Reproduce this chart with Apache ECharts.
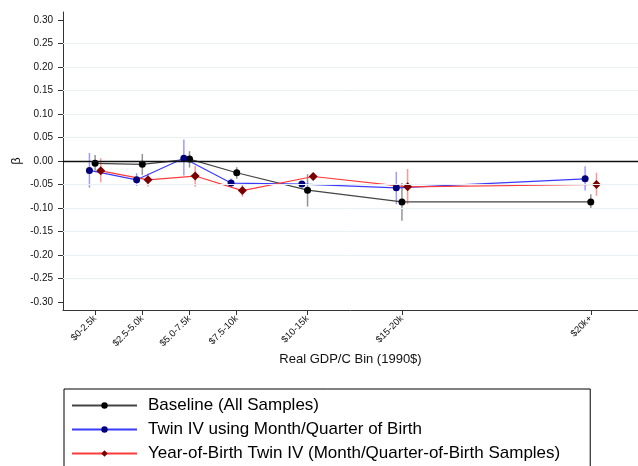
<!DOCTYPE html>
<html>
<head>
<meta charset="utf-8">
<script src="https://cdn.jsdelivr.net/npm/echarts@6/dist/echarts.min.js"></script>
<style>
html,body{margin:0;padding:0;background:#fff;}
#chart{width:638px;height:466px;}
</style>
</head>
<body>
<div id="chart"></div>
<script>
// Bin midpoints (thousand 1990$) and labels
var binMids = [1.25, 3.75, 6.25, 8.75, 12.5, 17.5, 27.5];
var binLabels = ['$0-2.5k', '$2.5-5.0k', '$5.0-7.5k', '$7.5-10k', '$10-15k', '$15-20k', '$20k+'];
var yTicks = [-0.30, -0.25, -0.20, -0.15, -0.10, -0.05, 0.00, 0.05, 0.10, 0.15, 0.20, 0.25, 0.30];
var gridValues = [-0.25, -0.20, -0.15, -0.10, -0.05, 0.05, 0.10, 0.15, 0.20, 0.25];

var seriesNames = ['Baseline (All Samples)', 'Twin IV using Month/Quarter of Birth', 'Year-of-Birth Twin IV (Month/Quarter-of-Birth Samples)'];

var baseline   = [-0.005, -0.007, 0.004, -0.025, -0.062, -0.087, -0.087];
var baselineLo = [-0.021, -0.030, -0.014, -0.038, -0.097, -0.127, -0.102];
var baselineHi = [0.013, 0.015, 0.021, -0.013, -0.028, -0.047, -0.071];

var twinIV   = [-0.020, -0.040, 0.006, -0.047, -0.049, -0.057, -0.038];
var twinIVLo = [-0.057, -0.053, -0.031, -0.055, -0.056, -0.092, -0.063];
var twinIVHi = [0.017, -0.026, 0.046, -0.037, -0.044, -0.023, -0.011];

var yobIV   = [-0.021, -0.040, -0.032, -0.063, -0.033, -0.055, -0.050];
var yobIVLo = [-0.045, -0.054, -0.055, -0.076, -0.039, -0.092, -0.074];
var yobIVHi = [0.006, -0.027, -0.010, -0.051, -0.026, -0.017, -0.025];

var FONT = "'Liberation Sans', Arial, Helvetica, sans-serif";
var DODGE = 0.3; // horizontal dodge between the three estimates

function pts(vals, shift) {
  return vals.map(function (v, i) { return [binMids[i] + shift, v]; });
}
function cis(lo, hi, shift) {
  return lo.map(function (l, i) { return [binMids[i] + shift, l, hi[i]]; });
}
function ciSeries(data, color) {
  return {
    type: 'custom',
    silent: true,
    z: 2,
    data: data,
    encode: { x: 0, y: [1, 2] },
    renderItem: function (params, api) {
      var a = api.coord([api.value(0), api.value(1)]);
      var b = api.coord([api.value(0), api.value(2)]);
      return {
        type: 'line',
        shape: { x1: a[0], y1: a[1], x2: b[0], y2: b[1] },
        style: { stroke: color, lineWidth: 1.5 }
      };
    }
  };
}
function lineSeries(name, data, lineColor, markColor, symbol, size) {
  return {
    name: name,
    type: 'line',
    z: 3,
    data: data,
    symbol: symbol,
    symbolSize: size,
    showSymbol: true,
    lineStyle: { color: lineColor, width: 1.2 },
    itemStyle: { color: markColor },
    emphasis: { disabled: true }
  };
}

var chart = echarts.init(document.getElementById('chart'), null, { renderer: 'canvas' });
var option = {
  animation: false,
  backgroundColor: '#fff',
  textStyle: { fontFamily: FONT },
  grid: { left: 63, right: 0, top: 12, bottom: 156, containLabel: false },
  xAxis: {
    type: 'value',
    min: -0.45,
    max: 30,
    name: 'Real GDP/C Bin (1990$)',
    nameLocation: 'middle',
    nameGap: 43,
    nameMoveOverlap: false,
    nameTextStyle: { fontSize: 13, color: '#111', fontFamily: FONT },
    axisLine: { onZero: false, lineStyle: { color: '#333', width: 1 } },
    axisTick: { show: true, length: 5, customValues: binMids, lineStyle: { color: '#333' } },
    axisLabel: {
      customValues: binMids,
      rotate: 45,
      fontSize: 9.5,
      color: '#111',
      margin: 7,
      fontFamily: FONT,
      formatter: function (v) {
        for (var i = 0; i < binMids.length; i++) {
          if (Math.abs(binMids[i] - v) < 1e-6) return binLabels[i];
        }
        return '';
      }
    },
    splitLine: { show: false }
  },
  yAxis: {
    type: 'value',
    min: -0.317,
    max: 0.317,
    name: 'β',
    nameLocation: 'middle',
    nameRotate: 90,
    nameGap: 40,
    nameMoveOverlap: false,
    nameTextStyle: { fontSize: 13, color: '#111', fontFamily: FONT },
    axisLine: { onZero: false, lineStyle: { color: '#333', width: 1 } },
    axisTick: { show: true, length: 5, customValues: yTicks, lineStyle: { color: '#333' } },
    axisLabel: {
      customValues: yTicks,
      fontSize: 10,
      color: '#111',
      margin: 10,
      fontFamily: FONT,
      formatter: function (v) { return v.toFixed(2); }
    },
    splitLine: { show: false }
  },
  legend: {
    orient: 'vertical',
    left: 64,
    top: 389,
    height: 200,
    data: seriesNames,
    borderColor: '#000',
    borderWidth: 1,
    padding: [8, 30, 30, 7],
    itemWidth: 65,
    itemHeight: 8,
    itemGap: 7,
    selectedMode: false,
    textStyle: { fontSize: 17, color: '#000', fontFamily: FONT, lineHeight: 17, padding: [0, 0, 0, 6] }
  },
  series: [
    {
      type: 'line',
      data: [],
      silent: true,
      z: 1,
      markLine: {
        silent: true,
        symbol: 'none',
        label: { show: false },
        animation: false,
        data: gridValues.map(function (v) {
          return { yAxis: v, lineStyle: { color: '#e8f0f2', width: 1, type: 'solid' } };
        }).concat([{ yAxis: 0, lineStyle: { color: '#111', width: 1.4, type: 'solid' } }])
      }
    },
    ciSeries(cis(baselineLo, baselineHi, 0), 'rgba(60,60,60,0.55)'),
    ciSeries(cis(twinIVLo, twinIVHi, -DODGE), 'rgba(90,90,255,0.6)'),
    ciSeries(cis(yobIVLo, yobIVHi, DODGE), 'rgba(255,80,80,0.6)'),
    lineSeries(seriesNames[0], pts(baseline, 0), '#444', '#000', 'circle', 7),
    lineSeries(seriesNames[1], pts(twinIV, -DODGE), '#3a3aff', '#00007a', 'circle', 7),
    lineSeries(seriesNames[2], pts(yobIV, DODGE), '#ff3a3a', '#7a0000', 'diamond', 9)
  ]
};
chart.setOption(option);
</script>
</body>
</html>
